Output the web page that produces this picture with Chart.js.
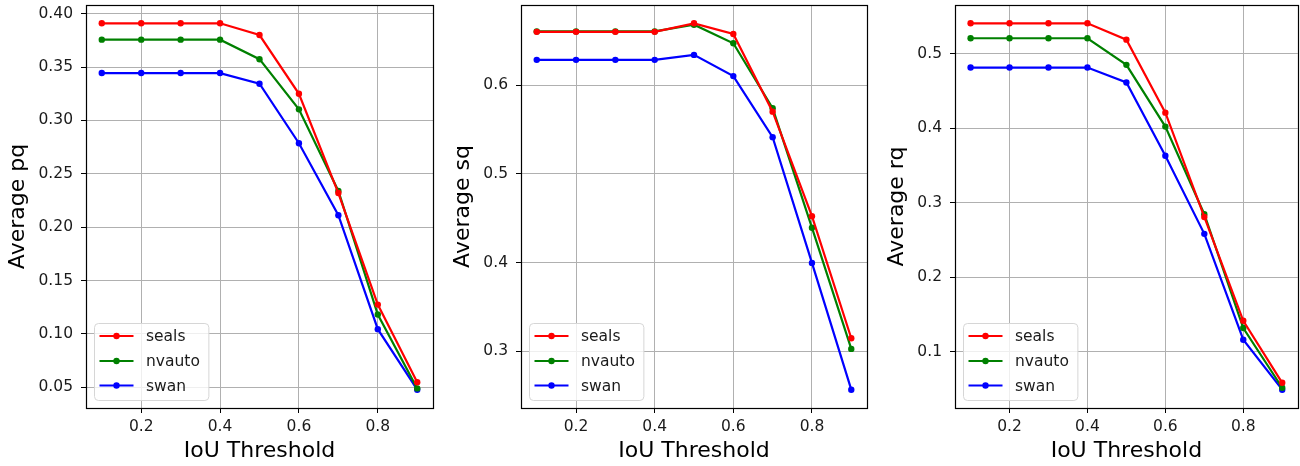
<!DOCTYPE html>
<html><head><meta charset="utf-8">
<script src="https://cdn.jsdelivr.net/npm/chart.js@4.4.1/dist/chart.umd.min.js"></script>
<style>
html,body{margin:0;padding:0;background:#fff;overflow:hidden;}
#wrap{position:relative;width:1300px;height:466px;overflow:hidden;}
canvas{position:absolute;top:0;}
</style></head><body>
<div id="wrap">
<canvas id="c1" width="440" height="466" style="left:0px"></canvas>
<canvas id="c2" width="440" height="466" style="left:440px"></canvas>
<canvas id="c3" width="431" height="466" style="left:870px"></canvas>
</div>
<script>
// ---- data ----
const iouThresholds = [0.1, 0.2, 0.3, 0.4, 0.5, 0.6, 0.7, 0.8, 0.9];
const seriesNames = ['seals', 'nvauto', 'swan'];
const seriesColors = ['#ff0000', '#008000', '#0000ff'];

const pqSeals  = [0.391, 0.391, 0.391, 0.391, 0.380, 0.325, 0.232, 0.1275, 0.0547];
const pqNvauto = [0.3757, 0.3757, 0.3757, 0.3757, 0.3574, 0.3104, 0.2339, 0.1182, 0.049];
const pqSwan   = [0.3444, 0.3444, 0.3444, 0.3444, 0.3344, 0.2787, 0.2112, 0.1045, 0.0478];

const sqSeals  = [0.660, 0.660, 0.660, 0.660, 0.6696, 0.6576, 0.570, 0.4522, 0.3146];
const sqNvauto = [0.6605, 0.6605, 0.6605, 0.6605, 0.668, 0.6471, 0.5738, 0.4392, 0.3026];
const sqSwan   = [0.6284, 0.6284, 0.6284, 0.6284, 0.634, 0.6101, 0.5413, 0.3995, 0.2566];

const rqSeals  = [0.5406, 0.5406, 0.5406, 0.5406, 0.5187, 0.4208, 0.281, 0.1418, 0.0586];
const rqNvauto = [0.5206, 0.5206, 0.5206, 0.5206, 0.4849, 0.4021, 0.2847, 0.132, 0.052];
const rqSwan   = [0.4813, 0.4813, 0.4813, 0.4813, 0.4613, 0.363, 0.2583, 0.1164, 0.0494];

const xTickValues = [0.2, 0.4, 0.6, 0.8];
const pqTickValues = [0.05, 0.10, 0.15, 0.20, 0.25, 0.30, 0.35, 0.40];
const sqTickValues = [0.3, 0.4, 0.5, 0.6];
const rqTickValues = [0.1, 0.2, 0.3, 0.4, 0.5];

const xLabel = 'IoU Threshold';
const FONT = "'DejaVu Sans', sans-serif";

function autoRange(arrs) {
  const all = [].concat(...arrs);
  const mn = Math.min(...all), mx = Math.max(...all);
  const m = (mx - mn) * 0.05;
  return {min: mn - m, max: mx + m};
}

const framePlugin = {
  id: 'frame',
  afterDatasetsDraw(chart) {
    const {ctx, chartArea: a} = chart;
    ctx.save();
    ctx.strokeStyle = '#000';
    ctx.lineWidth = 1.2;
    ctx.strokeRect(Math.round(a.left) + 0.5, Math.round(a.top) + 0.5,
                   Math.round(a.right - a.left), Math.round(a.bottom - a.top));
    ctx.restore();
  }
};

const legendPlugin = {
  id: 'mplLegend',
  afterDraw(chart) {
    const {ctx, chartArea: a} = chart;
    const ds = chart.data.datasets;
    ctx.save();
    ctx.font = '15.5px ' + FONT;
    let tw = 0;
    ds.forEach(d => { tw = Math.max(tw, ctx.measureText(d.label).width); });
    const w = 51.5 + tw + 9, h = 77;
    const x0 = a.left + 8.5, y0 = a.bottom - 8 - h + 0.5;
    ctx.beginPath();
    ctx.roundRect(x0, y0, w, h, 4);
    ctx.fillStyle = 'rgba(255,255,255,0.8)';
    ctx.fill();
    ctx.strokeStyle = '#d6d6d6';
    ctx.lineWidth = 1;
    ctx.stroke();
    const rowY = [12.5, 37.5, 62];
    ds.forEach((d, i) => {
      const y = y0 + rowY[i];
      ctx.strokeStyle = d.borderColor;
      ctx.lineWidth = 2.2;
      ctx.beginPath();
      ctx.moveTo(x0 + 5, y);
      ctx.lineTo(x0 + 39, y);
      ctx.stroke();
      ctx.fillStyle = d.borderColor;
      ctx.beginPath();
      ctx.arc(x0 + 22, y, 3.2, 0, Math.PI * 2);
      ctx.fill();
      ctx.fillStyle = '#1a1a1a';
      ctx.textBaseline = 'middle';
      ctx.textAlign = 'left';
      ctx.fillText(d.label, x0 + 51.5, y + 1);
    });
    ctx.restore();
  }
};

function makeChart(id, yLabel, series, yTicks, decimals, cfg) {
  const yr = autoRange(series);
  const xr = autoRange([iouThresholds]);
  return new Chart(document.getElementById(id), {
    type: 'line',
    data: {
      datasets: series.map((vals, i) => ({
        label: seriesNames[i],
        data: iouThresholds.map((x, j) => ({x: x, y: vals[j]})),
        borderColor: seriesColors[i],
        backgroundColor: seriesColors[i],
        borderWidth: 2.2,
        pointRadius: 3.2,
        pointHoverRadius: 3.2,
        pointBorderWidth: 0,
        tension: 0,
        fill: false
      }))
    },
    options: {
      responsive: false,
      animation: false,
      devicePixelRatio: 1,
      events: [],
      layout: {padding: {left: 0, top: 5, right: cfg.padRight, bottom: 0}},
      plugins: {legend: {display: false}, tooltip: {enabled: false}},
      scales: {
        x: {
          type: 'linear', min: xr.min, max: xr.max,
          afterBuildTicks: s => { s.ticks = xTickValues.map(v => ({value: v})); },
          afterFit: s => { s.height = 58; s.paddingLeft = 0; s.paddingRight = 0; },
          grid: {color: '#b0b0b0', lineWidth: 1, tickColor: '#000', tickLength: 5, drawTicks: true},
          border: {display: false},
          ticks: {color: '#1a1a1a', font: {family: FONT, size: 15.5}, padding: 5, maxRotation: 0, autoSkip: false,
                  callback: v => Number(v).toFixed(1)},
          title: {display: true, text: xLabel, color: '#000', font: {family: FONT, size: 22},
                  padding: {top: 0, bottom: 2}}
        },
        y: {
          type: 'linear', min: yr.min, max: yr.max,
          afterBuildTicks: s => { s.ticks = yTicks.map(v => ({value: v})); },
          afterFit: s => { s.width = cfg.yWidth; s.paddingTop = 0; s.paddingBottom = 0; },
          grid: {color: '#b0b0b0', lineWidth: 1, tickColor: '#000', tickLength: 5, drawTicks: true},
          border: {display: false},
          ticks: {color: '#1a1a1a', font: {family: FONT, size: 15.5}, padding: 8, autoSkip: false,
                  callback: v => Number(v).toFixed(decimals)},
          title: {display: true, text: yLabel, color: '#000', font: {family: FONT, size: 22},
                  padding: {top: cfg.titlePad, bottom: 0}}
        }
      }
    },
    plugins: [framePlugin, legendPlugin]
  });
}

makeChart('c1', 'Average pq', [pqSeals, pqNvauto, pqSwan], pqTickValues, 2, {yWidth: 86, padRight: 7, titlePad: 5.2});
makeChart('c2', 'Average sq', [sqSeals, sqNvauto, sqSwan], sqTickValues, 1, {yWidth: 81, padRight: 13, titlePad: 10.2});
makeChart('c3', 'Average rq', [rqSeals, rqNvauto, rqSwan], rqTickValues, 1, {yWidth: 85, padRight: 0, titlePad: 14.5});
</script>
</body></html>
